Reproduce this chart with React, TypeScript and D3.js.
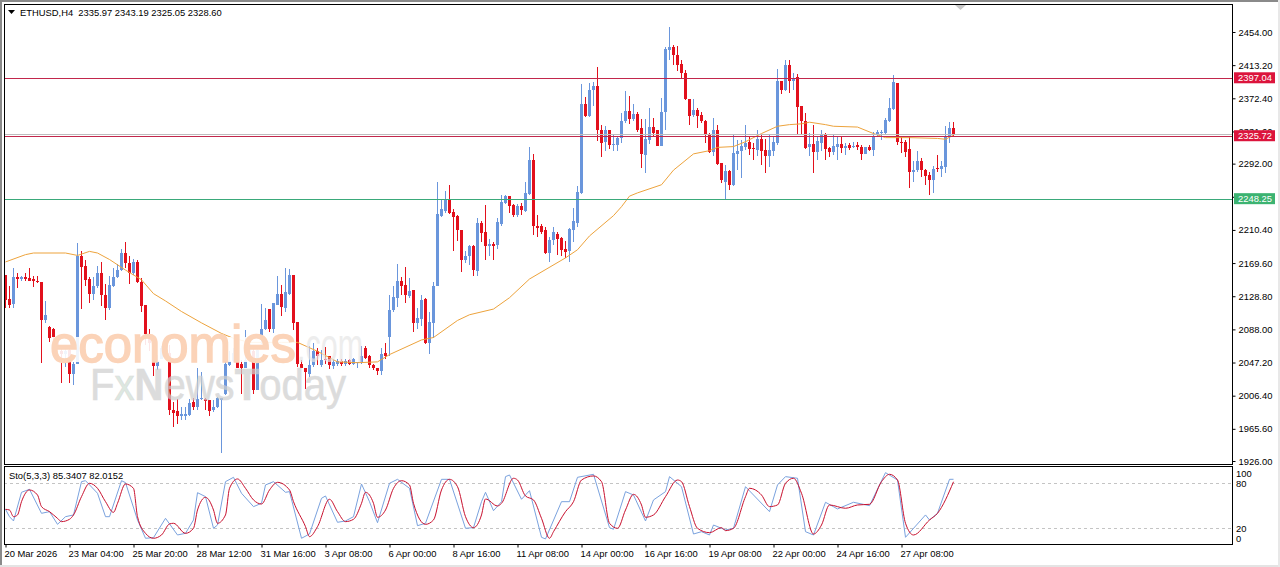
import { useEffect, useRef } from 'react';
import * as d3 from 'd3';

const W = 1280;
const H = 567;
const FONT = '"Liberation Sans", Arial, sans-serif';

// ETHUSD H4 candles
const opens = [
  2155,2125,2119,2153,2150,2152,2151,2150,2148,2146,
  2099,2091,2089,2072,2062,2058,2063,2033,2046,2178,
  2166,2150,2132,2141,2158,2130,2114,2141,2152,2161,
  2182,2170,2157,2171,2146,2118,2082,2072,2043,2052,
  2065,2059,1989,1987,1982,1982,1983,1999,1993,2002,
  2002,2001,1989,1992,2001,2009,2044,2049,2049,2046,
  2041,2050,2061,2014,2075,2089,2113,2089,2118,2132,
  2114,2132,2155,2097,2046,2040,2033,2044,2061,2044,
  2052,2055,2043,2045,2049,2046,2050,2046,2047,2048,
  2065,2055,2044,2041,2037,2059,2079,2112,2127,2148,
  2143,2129,2137,2096,2101,2126,2071,2096,2141,2228,
  2234,2247,2232,2228,2210,2174,2178,2191,2160,2219,
  2208,2191,2193,2192,2218,2244,2252,2241,2229,2240,
  2234,2255,2297,2215,2215,2210,2182,2198,2206,2201,
  2187,2184,2210,2219,2256,2366,2351,2383,2388,2334,
  2319,2333,2315,2315,2323,2344,2357,2347,2353,2336,
  2303,2321,2337,2333,2314,2355,2432,2435,2426,2415,
  2404,2372,2352,2358,2352,2345,2329,2306,2334,2293,
  2270,2283,2266,2304,2307,2312,2319,2311,2309,2322,
  2309,2302,2308,2317,2394,2383,2414,2394,2399,2363,
  2345,2312,2316,2306,2317,2328,2311,2306,2312,2316,
  2311,2315,2312,2315,2313,2304,2313,2309,2329,2330,
  2330,2345,2359,2391,2319,2319,2310,2282,2284,2295,
  2284,2278,2272,2287,2286,2288,2325,2335.97,
];
const highs = [
  2155,2141,2163,2158,2154,2158,2163,2154,2154,2146,
  2123,2092,2090,2073,2069,2065,2065,2048,2194,2184,
  2174,2152,2152,2166,2171,2144,2154,2164,2169,2187,
  2195,2178,2175,2174,2151,2118,2089,2072,2057,2067,
  2068,2069,1999,2002,1993,1993,2002,2003,2040,2035,
  2003,2001,2001,2005,2003,2048,2061,2065,2063,2050,
  2087,2072,2067,2065,2119,2114,2113,2120,2154,2143,
  2163,2162,2155,2097,2050,2040,2067,2071,2065,2063,
  2066,2055,2051,2051,2051,2051,2052,2053,2048,2067,
  2068,2056,2046,2041,2065,2071,2130,2141,2169,2153,
  2165,2151,2137,2114,2130,2127,2110,2146,2269,2247,
  2258,2266,2236,2229,2210,2185,2192,2192,2225,2221,
  2241,2199,2195,2225,2253,2253,2252,2242,2242,2244,
  2269,2312,2304,2229,2218,2214,2202,2214,2208,2202,
  2197,2213,2237,2265,2390,2374,2391,2392,2411,2340,
  2338,2334,2329,2325,2354,2382,2375,2366,2356,2347,
  2347,2360,2348,2334,2373,2435,2460,2438,2437,2420,
  2407,2372,2372,2360,2355,2346,2330,2348,2340,2293,
  2290,2284,2329,2321,2321,2340,2325,2317,2334,2329,
  2322,2327,2326,2409,2394,2420,2420,2403,2402,2363,
  2354,2330,2340,2325,2334,2330,2312,2328,2325,2325,
  2317,2317,2319,2319,2315,2313,2315,2331,2333,2334,
  2348,2373,2401,2391,2325,2321,2325,2295,2307,2299,
  2286,2282,2289,2303,2295,2338,2343,2343.19,
];
const lows = [
  2114,2114,2114,2139,2147,2147,2147,2140,2145,2047,
  2096,2072,2075,2063,2022,2042,2022,2020,2045,2113,
  2141,2121,2124,2139,2117,2100,2112,2140,2151,2160,
  2163,2144,2155,2145,2109,2069,2061,2031,2038,2051,
  2058,1983,1968,1971,1976,1977,1982,1989,1989,2001,
  1989,1981,1986,1991,1936,2007,2043,2048,2040,2009,
  2040,2048,2009,2013,2070,2087,2085,2083,2118,2105,
  2110,2130,2087,2042,2040,2015,2030,2042,2044,2042,
  2046,2039,2039,2043,2043,2043,2044,2044,2041,2046,
  2052,2041,2038,2032,2032,2052,2055,2110,2116,2130,
  2121,2127,2085,2089,2092,2070,2058,2078,2141,2226,
  2231,2230,2185,2197,2159,2170,2167,2154,2154,2196,
  2173,2178,2173,2187,2215,2242,2231,2226,2226,2229,
  2233,2253,2204,2202,2206,2181,2171,2192,2180,2178,
  2176,2171,2196,2214,2255,2350,2350,2363,2320,2300,
  2307,2310,2307,2308,2317,2342,2341,2344,2331,2287,
  2280,2316,2325,2314,2314,2333,2420,2413,2406,2396,
  2370,2340,2350,2336,2342,2318,2305,2302,2290,2268,
  2248,2259,2265,2284,2274,2309,2303,2297,2301,2290,
  2281,2288,2302,2315,2378,2382,2379,2383,2329,2327,
  2310,2302,2281,2296,2307,2296,2300,2303,2297,2305,
  2303,2309,2311,2309,2297,2304,2307,2302,2325,2321,
  2329,2343,2358,2315,2305,2300,2262,2270,2282,2276,
  2266,2254,2256,2282,2275,2280,2317,2325.05,
];
const closes = [
  2124,2118,2153,2150,2153,2150,2148,2148,2146,2099,
  2106,2077,2079,2069,2058,2062,2033,2046,2178,2165,
  2149,2132,2141,2158,2130,2114,2143,2153,2161,2182,
  2170,2157,2171,2146,2117,2082,2071,2043,2049,2065,
  2061,1989,1985,1981,1984,1984,1997,1992,2002,2003,
  2000,1988,1993,2004,2003,2046,2049,2059,2040,2040,
  2050,2070,2013,2063,2089,2100,2089,2120,2132,2115,
  2134,2155,2096,2046,2041,2035,2044,2061,2055,2050,
  2050,2044,2048,2049,2046,2049,2046,2051,2048,2055,
  2053,2044,2041,2037,2058,2055,2112,2128,2148,2142,
  2130,2135,2096,2102,2124,2071,2097,2142,2230,2236,
  2247,2231,2226,2210,2174,2178,2191,2161,2219,2207,
  2191,2193,2191,2220,2245,2252,2240,2229,2240,2235,
  2256,2297,2215,2213,2208,2182,2198,2208,2199,2186,
  2183,2211,2222,2257,2366,2351,2383,2388,2334,2318,
  2333,2315,2316,2323,2345,2357,2347,2353,2334,2304,
  2322,2337,2330,2314,2356,2433,2435,2426,2414,2404,
  2372,2351,2358,2351,2344,2327,2306,2334,2292,2272,
  2283,2266,2305,2308,2314,2317,2310,2310,2322,2308,
  2302,2309,2319,2394,2383,2414,2394,2398,2362,2344,
  2311,2316,2306,2320,2329,2310,2306,2314,2316,2311,
  2314,2311,2314,2312,2304,2312,2309,2325,2331,2331,
  2346,2360,2392,2319,2318,2306,2282,2284,2295,2284,
  2277,2272,2286,2286,2289,2325,2336,2328.6,
];

// moving average: bar number, price at the kinks of the line
const maBars = [0,5,7,15,18,21,23,26,30,34,37,40,44,49,54,57,61,69,73,78,83,88,93,96,104,107,113,116,122,126,131,140,143,146,152,154,156,158,164,167,172,176,178,182,185,189,193,196,199,201,205,207,213,217,220,226,233,235,237];
const maValues = [2171,2180,2182,2182,2179,2184,2182,2174,2161,2149,2132,2123,2110,2096,2083,2077,2072,2072,2072,2061,2048,2047,2048,2057,2075,2078,2099,2106,2113,2127,2150,2176,2186,2203,2228,2239,2252,2256,2266,2284,2304,2308,2312,2313,2319,2329,2338,2340,2341,2343,2340,2338,2337,2329,2324,2324,2323,2322,2327];

// stochastic %K and %D, at the kinks
const kBars = [0,1,2,4,6,9,11,13,15,17,19,20,23,25,26,29,30,33,35,37,40,43,45,47,48,50,52,53,55,57,59,62,64,65,67,70,71,74,76,79,80,83,85,87,89,91,93,96,98,101,103,105,109,111,115,117,119,120,122,124,125,126,129,131,134,135,139,141,143,147,151,152,155,157,160,162,165,166,169,172,174,176,177,180,182,185,187,191,193,195,198,200,202,205,208,212,216,220,223,225,230,231,233,236,237];
const kValues = [45.3,35.5,29.8,68,72,40,42.2,25.3,35.5,37.8,82.2,83.5,66.7,35.5,35.5,83.5,80.9,31.1,6.7,7.5,33.3,11.1,13.3,31.1,67.5,62.2,20,24.4,82.2,88,66.7,48.9,53.3,77.8,82.2,68,68.9,6.7,12.4,60,63.1,28,29.8,35.5,79.1,55.5,27.5,80,85.3,73.3,23.5,26.7,85.3,85.3,20,20.9,55.5,68,43.5,55.5,88.9,91.1,58.7,70.2,8,5.8,55.5,55.5,88,92,20.9,18.7,68.9,64.4,29.8,57.8,68.9,88.9,75.5,12.4,15.5,11.1,24.4,17.8,20,75.5,64.4,42.2,77.8,88.9,86.7,15.5,11.1,54.7,45.8,54.7,50.2,94.2,84.4,8,37.8,31.1,40,85.3,85.34];
const dBars = [0,1,2,3,4,6,8,9,11,13,14,16,17,19,21,23,25,27,28,30,32,33,35,37,39,41,42,45,47,48,50,52,53,55,56,58,60,62,64,66,68,71,72,75,76,78,81,83,85,87,89,90,92,93,95,97,99,101,102,105,107,109,111,113,115,117,119,120,123,124,127,128,130,132,134,136,137,140,142,144,147,149,151,153,155,157,159,160,162,165,168,169,171,173,176,179,180,182,185,186,189,191,193,195,197,199,202,204,206,210,213,216,219,221,223,225,227,231,233,237];
const dValues = [45.3,44.4,35.5,37.8,55.5,71.1,64.4,48.9,42.2,33.3,28.9,32,37.8,62.2,80,73.3,55.5,41.3,53.3,79.1,73.3,35.5,13.3,6.7,11.1,25.8,26.7,13.3,20,44.4,61.3,44.4,26.7,37.8,73.3,85.8,73.3,57.8,52.4,71.1,81.3,71.1,55.5,22.2,8.9,22.2,58.7,42.2,28.9,32,53.3,68,53.3,34.7,44.4,73.3,83.5,77.8,53.3,25.3,31.1,71.1,85.3,75.5,35.5,20.9,37.8,59.1,49.8,53.3,86.7,84.4,63.1,57.8,33.3,6.7,15.5,42.2,55.5,84.4,89.8,82.2,26.7,20,44.4,65.3,51.1,34.7,37.8,62.2,84.4,82.2,48.9,20,14.2,20.9,16.9,20,62.2,73.3,64.4,48.9,51.1,80,86.7,66.7,12.4,24.4,51.1,46.7,51.1,52,82.2,92,84.4,26.7,11.1,31.1,40,82.02];

const priceTicks = [2454,2413.2,2372.4,2331.6,2292,2251.2,2210.4,2169.6,2128.8,2088,2047.2,2006.4,1965.6,1926];
const timeLabels = ['20 Mar 2026','23 Mar 04:00','25 Mar 20:00','28 Mar 12:00','31 Mar 16:00','3 Apr 08:00','6 Apr 00:00','8 Apr 16:00','11 Apr 08:00','14 Apr 00:00','16 Apr 16:00','19 Apr 08:00','22 Apr 00:00','24 Apr 16:00','27 Apr 08:00'];
const stochLevels = [80, 20];
const stochTicks = [100, 80, 20, 0];
const hLevels = [2397.04, 2325.72, 2248.25];
const hColors = ['#c2274c', '#c2274c', '#3aa97a'];
const hLabelColors = ['#dc143c', '#dc143c', '#3cb371'];
const bidLine = 2328.6;

const BLUE = '#6a96dc';
const RED = '#e2101c';

const x = d3.scaleLinear([0, 237], [5.5, 953.5]);
const y = d3.scaleLinear([1926, 2454], [461, 32]);
const sy = d3.scaleLinear([0, 100], [543.3, 468.3]);

export default function App() {
  const svgRef = useRef<SVGSVGElement>(null);

  useEffect(() => {
    const svg = d3.select(svgRef.current);
    svg.selectAll('*').remove();
    svg.append('rect').attr('width', W).attr('height', H).attr('fill', '#fff');

    // window edges
    svg.append('rect').attr('x', 0).attr('y', 0).attr('width', 2).attr('height', H).attr('fill', '#8a8a8a');
    svg.append('rect').attr('x', 0).attr('y', 0).attr('width', W).attr('height', 2).attr('fill', '#8a8a8a');
    svg.append('rect').attr('x', 0).attr('y', 565).attr('width', W).attr('height', 2).attr('fill', '#e4e4e4');
    svg.append('rect').attr('x', 1278).attr('y', 0).attr('width', 2).attr('height', H).attr('fill', '#e8e8e8');

    // candles
    const bars = d3.range(opens.length);
    const candles = svg.append('g').attr('shape-rendering', 'crispEdges');
    candles.selectAll('line').data(bars).join('line')
      .attr('x1', i => x(i)).attr('x2', i => x(i))
      .attr('y1', i => y(highs[i])).attr('y2', i => y(lows[i]))
      .attr('stroke', i => (closes[i] >= opens[i] ? BLUE : RED));
    candles.selectAll('rect').data(bars).join('rect')
      .attr('x', i => x(i) - 1.5).attr('width', 3)
      .attr('y', i => y(Math.max(opens[i], closes[i])))
      .attr('height', i => Math.max(1, Math.abs(y(opens[i]) - y(closes[i]))))
      .attr('fill', i => (closes[i] >= opens[i] ? BLUE : RED));

    // moving average
    const maLine = d3.line<number>().x(i => x(maBars[i])).y(i => y(maValues[i]));
    svg.append('path').attr('d', maLine(d3.range(maBars.length)))
      .attr('fill', 'none').attr('stroke', '#eda33c').attr('stroke-width', 1);

    // horizontal levels
    svg.append('line').attr('x1', 4).attr('x2', 1232).attr('y1', y(bidLine) + 0.7).attr('y2', y(bidLine) + 0.7)
      .attr('stroke', '#bdbdbd').attr('shape-rendering', 'crispEdges');
    hLevels.forEach((lv, i) => {
      svg.append('line').attr('x1', 4).attr('x2', 1232).attr('y1', y(lv)).attr('y2', y(lv))
        .attr('stroke', hColors[i]).attr('shape-rendering', 'crispEdges');
    });

    // watermarks, they hide the chart under the peach letters
    svg.append('rect').attr('x', 52).attr('y', 337).attr('width', 244).attr('height', 25)
      .attr('fill', '#fff').attr('opacity', 0.9);
    svg.append('text').attr('x', 50).attr('y', 362).attr('font-family', FONT).attr('font-size', 52)
      .attr('textLength', 246).attr('lengthAdjust', 'spacingAndGlyphs')
      .attr('fill', '#fbd3b8').attr('stroke', '#fbd3b8').attr('stroke-width', 1.4).text('economies');
    svg.append('text').attr('x', 297).attr('y', 362).attr('font-family', FONT).attr('font-size', 48)
      .attr('textLength', 66).attr('lengthAdjust', 'spacingAndGlyphs').attr('opacity', 0.7)
      .attr('fill', '#e6e6e6').text('.com');
    const fx = svg.append('text').attr('x', 90).attr('y', 400).attr('font-family', FONT).attr('font-size', 44)
      .attr('textLength', 256).attr('lengthAdjust', 'spacingAndGlyphs')
      .attr('fill', '#cfcfcf').attr('stroke', '#cfcfcf').attr('stroke-width', 0.6).attr('opacity', 0.72);
    fx.append('tspan').text('F');
    fx.append('tspan').attr('fill', '#cfe0d5').text('x');
    fx.append('tspan').attr('font-weight', 700).text('N');
    fx.append('tspan').text('ews');
    fx.append('tspan').attr('font-weight', 700).text('T');
    fx.append('tspan').text('oday');

    // stochastic
    stochLevels.forEach(lv => {
      svg.append('line').attr('x1', 4).attr('x2', 1232).attr('y1', sy(lv)).attr('y2', sy(lv))
        .attr('stroke', '#c4c4c4').attr('stroke-dasharray', '3,3').attr('shape-rendering', 'crispEdges');
    });
    const kLine = d3.line<number>().x(i => x(kBars[i])).y(i => sy(kValues[i]));
    svg.append('path').attr('d', kLine(d3.range(kBars.length)))
      .attr('fill', 'none').attr('stroke', '#7aa2de').attr('stroke-width', 1);
    const dLine = d3.line<number>().x(i => x(dBars[i])).y(i => sy(dValues[i])).curve(d3.curveMonotoneX);
    svg.append('path').attr('d', dLine(d3.range(dBars.length)))
      .attr('fill', 'none').attr('stroke', '#c8102e').attr('stroke-width', 1);

    // panel frames
    [[4, 4, 1228, 460], [4, 466, 1228, 78]].forEach(([fx0, fy0, fw, fh]) => {
      svg.append('rect').attr('x', fx0 + 0.5).attr('y', fy0 + 0.5).attr('width', fw).attr('height', fh)
        .attr('fill', 'none').attr('stroke', '#000').attr('shape-rendering', 'crispEdges');
    });

    // price axis
    const yAxis = d3.axisRight(y).tickValues(priceTicks).tickFormat(d3.format('.2f')).tickSize(3).tickPadding(3);
    const yG = svg.append('g').attr('transform', 'translate(1232.5,0)').call(yAxis);
    yG.select('.domain').remove();
    yG.selectAll('text').attr('font-family', FONT).attr('font-size', 9.4).attr('fill', '#000');
    yG.selectAll('line').attr('stroke', '#000');

    // level labels over the axis text
    hLevels.forEach((lv, i) => {
      svg.append('rect').attr('x', 1234).attr('y', y(lv) - 6).attr('width', 41).attr('height', 11)
        .attr('fill', hLabelColors[i]);
      svg.append('text').attr('x', 1238).attr('y', y(lv) + 3).attr('font-family', FONT).attr('font-size', 9.4)
        .attr('fill', '#fff').text(lv.toFixed(2));
    });

    // stochastic axis
    stochTicks.forEach(t => {
      const ty = Math.max(473, Math.min(538, sy(t)));
      svg.append('text').attr('x', 1236).attr('y', ty + 3.5).attr('font-family', FONT).attr('font-size', 9.4)
        .attr('fill', '#000').text(t);
    });

    // time axis
    const tAxis = d3.axisBottom(x).tickValues(timeLabels.map((_, i) => i * 16))
      .tickFormat(d => timeLabels[+d / 16]).tickSize(3).tickPadding(3);
    const tG = svg.append('g').attr('transform', 'translate(0,544.5)').call(tAxis);
    tG.select('.domain').remove();
    tG.selectAll('text').attr('font-family', FONT).attr('font-size', 9.4).attr('fill', '#000')
      .attr('text-anchor', 'start').attr('dx', -1.5);
    tG.selectAll('line').attr('stroke', '#000');

    // header texts
    svg.append('path').attr('d', d3.line()([[8, 10], [15, 10], [11.5, 14]]) + 'Z').attr('fill', '#000');
    svg.append('text').attr('x', 20).attr('y', 16).attr('font-family', FONT).attr('font-size', 9.4)
      .attr('fill', '#000').attr('xml:space', 'preserve').text('ETHUSD,H4  2335.97 2343.19 2325.05 2328.60');
    svg.append('text').attr('x', 9).attr('y', 479).attr('font-family', FONT).attr('font-size', 9.4)
      .attr('fill', '#000').text('Sto(5,3,3) 85.3407 82.0152');
    svg.append('path').attr('d', d3.line()([[955, 5], [966, 5], [960.5, 10]]) + 'Z').attr('fill', '#c8c8c8');
  }, []);

  return (
    <svg ref={svgRef} width={W} height={H}
      style={{ position: 'fixed', left: 0, top: 0, display: 'block' }} />
  );
}
